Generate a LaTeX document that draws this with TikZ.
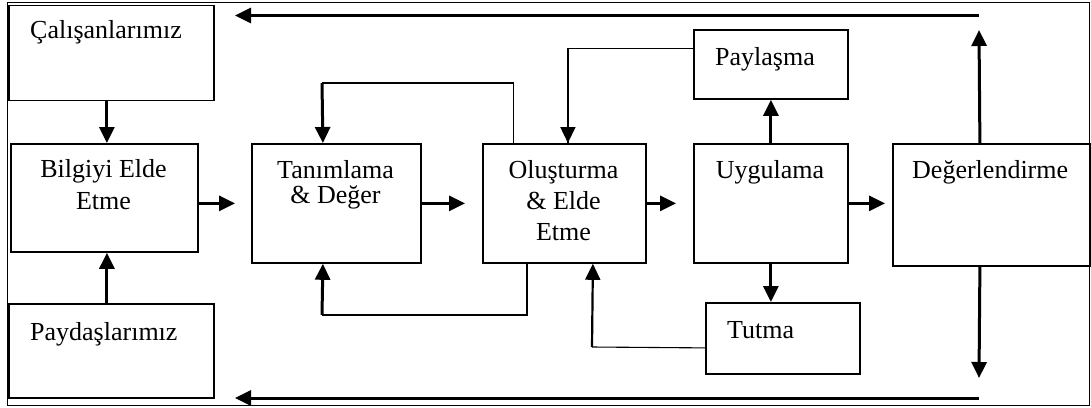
\documentclass[tikz,border=0pt]{standalone}
\usepackage{fontspec}
\setmainfont{Liberation Serif}
\usetikzlibrary{arrows.meta}

\begin{document}
\begin{tikzpicture}[x=1pt,y=-1pt,
  box/.style={draw, line width=1.8pt, inner sep=0pt, anchor=north west},
  lbl/.style={font=\fontsize{26}{31}\selectfont, inner sep=0pt, align=center},
  tip/.style={-{Triangle[length=16pt,width=15pt]}},
  arr/.style={tip, line width=3pt},
  midarr/.style={tip, line width=2.2pt},
  slimarr/.style={tip, line width=1.6pt},
  link/.style={line width=1.1pt},
  midlink/.style={line width=1.8pt},
  frame/.style={line width=1pt}]

\useasboundingbox (0,0) rectangle (1091,407);

% outer frame
\draw[frame] (7,2.5) rectangle (1089.5,405.5);

% boxes
\node[box, minimum width=205pt, minimum height=95pt]  (cal)  at (8,4.5)  {};
\node[box, minimum width=187pt, minimum height=108pt] (bil)  at (10,143) {};
\node[box, minimum width=205pt, minimum height=94pt]  (pay)  at (8,303)  {};
\node[box, minimum width=169pt, minimum height=119pt] (tan)  at (251,143) {};
\node[box, minimum width=163pt, minimum height=119pt] (olu)  at (482,143) {};
\node[box, minimum width=154pt, minimum height=69pt]  (pyl)  at (693,29)  {};
\node[box, minimum width=154pt, minimum height=119pt] (uyg)  at (693,143) {};
\node[box, minimum width=154pt, minimum height=71pt]  (tut)  at (705,302) {};
\node[box, minimum width=197pt, minimum height=122pt] (deg)  at (892,143) {};

% labels (multi-line labels are placed by the baseline of their last line)
\node[lbl, anchor=base west] (cal-t) at (30,38) {Çalışanlarımız};
\node[lbl, anchor=base, font=\fontsize{26}{32}\selectfont] (bil-t) at (103.5,209) {Bilgiyi Elde\\Etme};
\node[lbl, anchor=base west] (pay-t) at (30,340) {Paydaşlarımız};
\node[lbl, anchor=base, font=\fontsize{26}{25}\selectfont] (tan-t) at (335.5,203) {Tanımlama\\\& Değer};
\node[lbl, anchor=base] (olu-t) at (563.5,240) {Oluşturma\\\& Elde\\Etme};
\node[lbl, anchor=base] (pyl-t) at (765,65) {Paylaşma};
\node[lbl, anchor=base] (uyg-t) at (770,178) {Uygulama};
\node[lbl, anchor=base west] (tut-t) at (727,338) {Tutma};
\node[lbl, anchor=base west] (deg-t) at (912,178) {Değerlendirme};

% helper points for the feedback loops and return lines
\coordinate (topc) at (322,83);
\coordinate (botc) at (322,315);
\coordinate (tutc) at (592,347);
\coordinate (upR)  at (979,30);
\coordinate (dnR)  at (979,378);
\coordinate (topR) at (979,15.5);
\coordinate (topL) at (235,15.5);
\coordinate (botR) at (979,398);
\coordinate (botL) at (235,398);

% inputs into the first step
\draw[arr] ([xshift=-4.5pt]cal.south) -- ([xshift=2.5pt]bil.north);
\draw[arr] ([xshift=-4.5pt]pay.north) -- ([xshift=2.5pt]bil.south);

% main chain
\draw[arr, shorten >=16pt] (tan.west -| bil.east) -- (tan.west);
\draw[arr, shorten >=17pt] (tan.east) -- (olu.west);
\draw[arr, shorten >=17pt] (olu.east) -- (uyg.west);
\draw[arr, shorten >=7pt]  (uyg.east) -- (uyg.east -| deg.west);

% branches of Uygulama
\draw[arr] (uyg.north) -- (pyl.south);
\draw[arr] (uyg.south) -- (uyg.south |- tut.north);

% feedback loops
\draw[midlink] ([yshift=16pt]pyl.west) -| ([xshift=3.5pt]olu.north);
\draw[slimarr] ([xshift=3.5pt]olu.north) ++(0,-40) -- ([xshift=3.5pt]olu.north);
\draw[link] ([xshift=-50.5pt]olu.north) |- (topc);
\draw[arr] (topc) -- ([xshift=-13.5pt]tan.north);
\draw[midlink] ([xshift=-37.5pt]olu.south) |- (botc);
\draw[arr] (botc) -- ([xshift=-13.5pt]tan.south);
\draw[link] ([yshift=-9.5pt]tut.west) -- (tutc);
\draw[midarr] (tutc) -- ([xshift=28.5pt]olu.south);

% Degerlendirme outputs and return lines
\draw[arr] ([xshift=-11.5pt]deg.north) -- (upR);
\draw[arr] ([xshift=-11.5pt]deg.south) -- (dnR);
\draw[arr] (topR) -- (topL);
\draw[arr] (botR) -- (botL);
\end{tikzpicture}
\end{document}
